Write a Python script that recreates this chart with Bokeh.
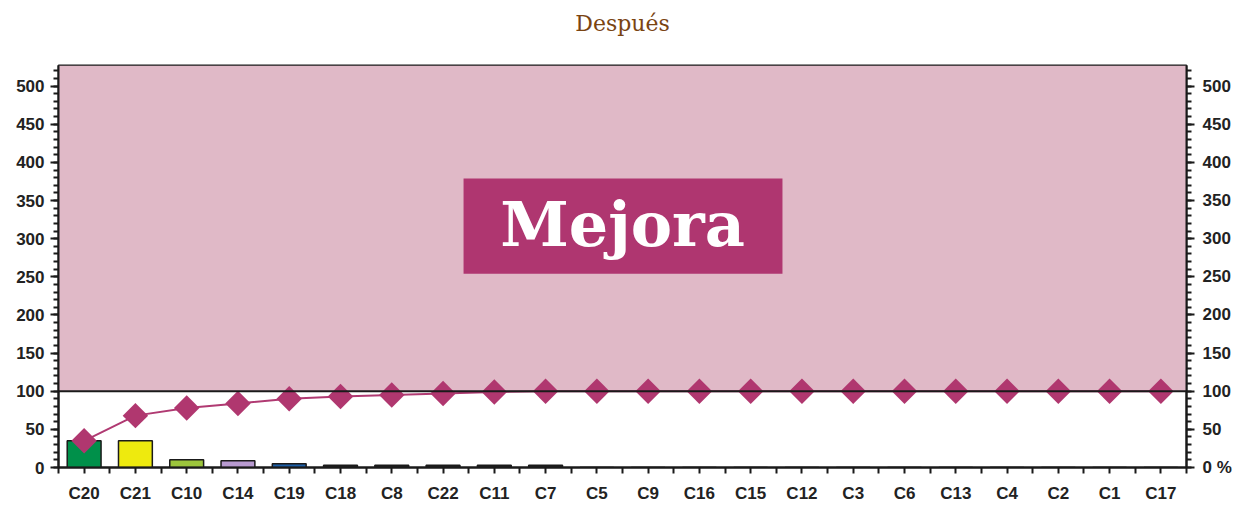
import numpy as np
from bokeh.plotting import figure
from bokeh.layouts import column
from bokeh.models import (Range1d, LinearAxis, FixedTicker, SingleIntervalTicker,
                          BoxAnnotation, Span, Label, ColumnDataSource)
from bokeh.embed import file_html
from bokeh.resources import INLINE

# ---- data ----
categories = ["C20", "C21", "C10", "C14", "C19", "C18", "C8", "C22", "C11", "C7",
              "C5", "C9", "C16", "C15", "C12", "C3", "C6", "C13", "C4", "C2", "C1", "C17"]
counts = [35, 35, 10, 9, 5, 3, 3, 3, 3, 3, 0, 0, 0, 0, 0, 0, 0, 0, 0, 0, 0, 0]
cum_pct = [35, 68, 78, 84, 90, 93, 95, 97, 99, 100, 100, 100, 100, 100, 100,
           100, 100, 100, 100, 100, 100, 100]
bar_colors = ["#00904A", "#EEEA0E", "#9CC53C", "#B89AD0", "#1C5FA8", "#222222",
              "#222222", "#222222", "#222222", "#222222"] + ["#222222"] * 12
y_ticks_major = 50
title_text = "Después"
badge_text = "Mejora"

n = len(categories)
xpos = np.arange(n) + 0.5

src = ColumnDataSource(dict(x=xpos, counts=counts, cum=cum_pct, color=bar_colors))

# ---- title strip (separate small figure so the text can sit high above the frame) ----
TITLE_H = 45
tfig = figure(width=1245, height=TITLE_H, output_backend="svg", toolbar_location=None,
              x_range=Range1d(0, 1), y_range=Range1d(0, 1),
              min_border=0, x_axis_location=None, y_axis_location=None)
tfig.outline_line_color = None
tfig.xgrid.visible = False
tfig.ygrid.visible = False
tfig.add_layout(Label(x=0.5, y=0.5, text=title_text, text_align="center",
                      text_baseline="middle", text_font="DejaVu Serif",
                      text_font_size="22px", text_color="#7A4412"))

# ---- main chart ----
p = figure(width=1245, height=506 - TITLE_H, output_backend="svg", toolbar_location=None,
           x_range=Range1d(0, n), y_range=Range1d(0, 527),
           min_border_left=58, min_border_right=59, min_border_top=65 - TITLE_H,
           min_border_bottom=39, x_axis_location=None, y_axis_location=None)
p.background_fill_color = "white"
p.border_fill_color = "white"
p.outline_line_color = "#1a1a1a"
p.outline_line_width = 2
p.xgrid.visible = False
p.ygrid.visible = False

# pink "improvement" zone above 100
p.add_layout(BoxAnnotation(bottom=100, fill_color="#E0B9C7", fill_alpha=1.0,
                           line_alpha=0, level="underlay"))

# bars
p.vbar(x="x", top="counts", width=0.66, source=src, fill_color="color",
       line_color="#1a1a1a", line_width=1.5)

# 100 reference line
p.add_layout(Span(location=100, dimension="width", line_color="#1a1a1a", line_width=2))

# cumulative line + diamonds
p.line(x="x", y="cum", source=src, line_color="#B03A72", line_width=2)
p.scatter(x="x", y="cum", source=src, marker="square", angle=np.pi / 4, size=18,
          fill_color="#B0376F", line_color="#B0376F", line_width=0)

# "Mejora" badge
p.add_layout(BoxAnnotation(left=7.9, right=14.12, bottom=254, top=379,
                           fill_color="#AF3670", fill_alpha=1.0, line_alpha=0))
p.add_layout(Label(x=11.0, y=319, text=badge_text, text_align="center",
                   text_baseline="middle", text_font="DejaVu Serif",
                   text_font_style="bold", text_font_size="62px", text_color="white"))

label_font = "Liberation Sans"

def style_axis(ax):
    ax.axis_line_color = "#1a1a1a"
    ax.axis_line_width = 2
    ax.major_tick_line_color = "#1a1a1a"
    ax.minor_tick_line_color = "#1a1a1a"
    ax.major_tick_line_width = 2
    ax.minor_tick_line_width = 2
    ax.major_tick_in = 0
    ax.minor_tick_in = 0
    ax.major_label_text_font = label_font
    ax.major_label_text_font_style = "bold"
    ax.major_label_text_font_size = "17px"
    ax.major_label_text_color = "#222222"

# bottom axis
xax = LinearAxis(ticker=FixedTicker(ticks=list(xpos), minor_ticks=list(range(n + 1))))
xax.major_label_overrides = {float(x): c for x, c in zip(xpos, categories)}
style_axis(xax)
xax.major_tick_out = 6
xax.minor_tick_out = 6
xax.major_label_standoff = 10
p.add_layout(xax, "below")

# left axis
lax = LinearAxis(ticker=SingleIntervalTicker(interval=y_ticks_major, num_minor_ticks=5))
style_axis(lax)
lax.major_tick_out = 8
lax.minor_tick_out = 5
lax.major_label_standoff = 6
p.add_layout(lax, "left")

# right axis (percent)
rax = LinearAxis(ticker=SingleIntervalTicker(interval=y_ticks_major, num_minor_ticks=5))
style_axis(rax)
rax.major_tick_out = 8
rax.minor_tick_out = 5
rax.major_label_standoff = 8
rax.major_label_overrides = {0: "0 %"}
p.add_layout(rax, "right")

layout = column(tfig, p, spacing=0)
open("out.html", "w").write(file_html(layout, INLINE))
